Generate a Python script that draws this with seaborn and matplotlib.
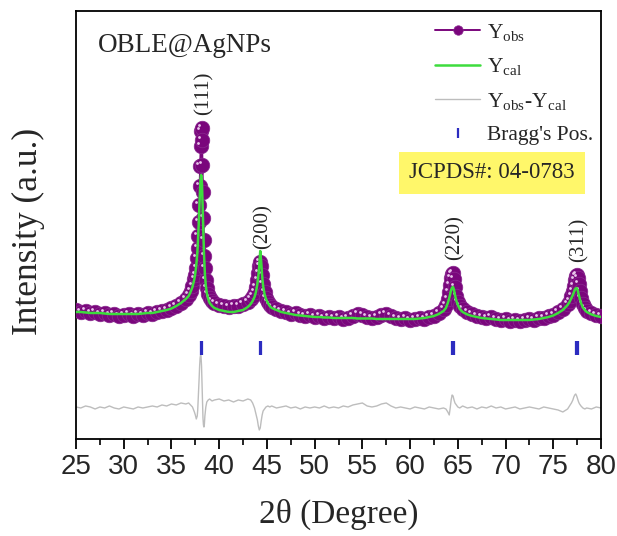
import numpy as np
import matplotlib
matplotlib.use("Agg")
import matplotlib.pyplot as plt
import matplotlib.transforms as mtransforms
from matplotlib.ticker import MultipleLocator
import seaborn as sns

# 2theta grid (deg), finer around the reflections
two_theta = [
    25.0, 25.5, 26.0, 26.5, 27.0, 27.5, 28.0, 28.5, 29.0, 29.5, 30.0, 30.5,
    31.0, 31.5, 32.0, 32.5, 33.0, 33.5, 34.0, 34.5, 35.0, 35.5, 36.0, 36.5,
    36.8, 37.0, 37.2, 37.4, 37.5, 37.6, 37.7, 37.75, 37.8, 37.85, 37.9, 37.95,
    38.0, 38.05, 38.1, 38.15, 38.2, 38.25, 38.3, 38.35, 38.4, 38.45, 38.5, 38.6,
    38.7, 38.85, 39.0, 39.25,
    39.5, 40.0, 40.5, 41.0, 41.5, 42.0, 42.5, 43.0, 43.3,
    43.5, 43.7, 43.85, 44.0, 44.1, 44.2, 44.3, 44.4, 44.5, 44.6, 44.75, 44.9,
    45.1, 45.3,
    45.5, 46.0, 46.5, 47.0, 47.5, 48.0, 48.5, 49.0, 49.5, 50.0, 50.5, 51.0,
    51.5, 52.0, 52.5, 53.0, 53.5, 54.0, 54.5, 55.0, 55.5, 56.0, 56.5, 57.0,
    57.5, 58.0, 58.5, 59.0, 59.5, 60.0, 60.5, 61.0, 61.5, 62.0, 62.5, 63.0,
    63.5,
    63.75, 63.95, 64.1, 64.2, 64.3, 64.4, 64.5, 64.6, 64.7, 64.85, 65.0, 65.2,
    65.5, 66.0, 66.5, 67.0, 67.5, 68.0, 68.5, 69.0, 69.5, 70.0, 70.5, 71.0,
    71.5, 72.0, 72.5, 73.0, 73.5, 74.0, 74.5, 75.0, 75.5, 76.0, 76.5,
    76.7, 76.9, 77.05, 77.15, 77.25, 77.35, 77.45, 77.55, 77.65, 77.75, 77.9,
    78.1, 78.3,
    78.5, 79.0, 79.5, 80.0,
]

# observed intensity (a.u.)
y_obs = [
    129, 127, 128, 126, 127, 125, 126, 124, 125, 123, 124, 125,
    123, 125, 124, 126, 125, 127, 128, 129, 131, 133, 136, 140,
    144, 148, 153, 160, 164, 171, 181, 191, 203, 217, 234, 253,
    273, 293, 308, 311, 299, 274, 247, 221, 199, 183, 171, 159,
    151, 145, 141, 138,
    136, 134, 133, 132, 133, 133, 135, 137, 140,
    143, 147, 152, 159, 166, 173, 177, 173, 164, 155, 147, 141,
    137, 134,
    132, 130, 128, 127, 125, 126, 124, 123, 124, 122, 123, 121,
    122, 121, 122, 120, 121, 123, 125, 124, 122, 121, 122, 124,
    125, 123, 121, 120, 121, 119, 120, 121, 120, 122, 123, 126,
    130,
    134, 140, 147, 154, 161, 165, 166, 160, 152, 143, 137, 133,
    130, 127, 125, 123, 122, 121, 122, 120, 119, 120, 118, 119,
    118, 119, 120, 119, 121, 121, 123, 124, 127, 130, 135,
    138, 143, 148, 153, 159, 163, 164, 161, 155, 148, 141,
    135, 131,
    128, 126, 124, 123,
]

# calculated (fitted) intensity (a.u.)
y_cal = [
    127, 127, 126.5, 126, 126, 126, 125.5, 125, 125, 125, 125, 125,
    125, 125, 125.5, 126, 126, 127, 128, 129, 130.5, 133, 136, 140,
    143, 147, 152, 160, 166, 174, 185, 193, 203, 214, 227, 239,
    251, 260, 264, 263, 254, 239, 221, 203, 187, 175, 165, 153,
    146, 140, 136, 133,
    131, 129, 128, 127, 127, 128, 129, 132, 135,
    138, 142, 147, 155, 163, 174, 188, 177, 163, 153, 145, 140,
    136, 133,
    131, 129, 127, 126, 125, 124, 123.5, 123, 122.5, 122, 122, 121.5,
    121.5, 121, 121, 121, 121, 121, 120.5, 120.5, 120.5, 120.5, 120, 120,
    120, 120, 120, 120, 120, 120, 120, 120.5, 121, 122, 123, 125,
    128,
    131, 136, 141, 145, 149, 151.5, 152, 149, 144, 138, 134, 130,
    127, 124.5, 123, 122, 121, 120.5, 120, 119.5, 119, 119, 119, 119,
    119, 119, 119, 119.5, 120, 121, 122, 123.5, 126, 129, 134,
    137, 141, 144, 146.5, 149, 150.5, 151, 149, 145, 141, 136,
    131.5, 129,
    127, 124.5, 123, 122,
]

# residual Yobs - Ycal (a.u.)
y_res = [
    0, -1, 1, 0, -2, 0, -1, 1, -1, -2, 0, -1,
    -2, 0, -1, 0, 1, 0, 2, 1, 3, 2, 4, 3,
    4, 2, 0, -5, -8, -12, -9, -3, 7, 17, 29, 41,
    49, 52, 50, 41, 24, 5, -11, -18, -20, -17, -9, 0,
    5, 7, 8, 6,
    7, 8, 6, 7, 5, 7, 6, 8, 7,
    4, -1, -7, -13, -19, -23, -21, -14, -8, -4, -2, 0,
    1, 0,
    1, -1, 0, 1, -1, 0, -2, 0, -1, 0, -1, 1,
    -1, 0, -1, 1, 0, 2, 3, 4, 1, 0, 1, 3,
    4, 1, -1, 0, -1, -2, 0, -1, -2, 0, -1, -2,
    -1,
    -2, -5, -8, -1, 7, 12, 11, 7, 4, 2, 0, -1,
    1, -1, 0, -2, 0, -1, 1, -1, 0, -2, -1, 0,
    -2, -1, 0, -1, -2, 0, -1, -2, -3, -5, -2,
    1, 4, 7, 10, 12, 13, 11, 8, 5, 3, 1,
    -1, -2,
    -1, -2, 0, -1,
]

# Bragg reflections of fcc Ag (Ka1/Ka2 pairs)
bragg_pos = [38.12, 38.22, 44.30, 44.42, 64.44, 64.62, 77.36, 77.62]
hkl_labels = ["(111)", "(200)", "(220)", "(311)"]
hkl_peaks = [38.12, 44.30, 64.44, 77.40]

res_offset = 32
bragg_row = 90.5

purple = "#7a067c"
green = "#3ddc3d"
grey = "#bdbdbd"
blue = "#2c2cc0"

sns.set_style("ticks")
plt.rcParams["font.family"] = ["Liberation Serif", "DejaVu Serif"]
plt.rcParams["mathtext.fontset"] = "stix"

fig = plt.figure(figsize=(6.17, 5.36), dpi=100)
ax = fig.add_axes([0.1232, 0.181, 0.8509, 0.7985])

x = np.array(two_theta)
obs = np.array(y_obs)
cal = np.array(y_cal)
res = np.array(y_res)

# difference curve
sns.lineplot(x=x, y=res + res_offset, ax=ax, color=grey, lw=1.0, zorder=2,
             label=r"Y$_\mathregular{obs}$-Y$_\mathregular{cal}$")

# observed points
sns.lineplot(x=x, y=obs, ax=ax, color=purple, lw=1.4, marker="o",
             markersize=10.5, markeredgecolor="#8a2a90", markeredgewidth=0.5,
             zorder=3, label=r"Y$_\mathregular{obs}$")
shine = ax.transData + mtransforms.ScaledTranslation(-2.0 / 72, 2.0 / 72,
                                                     fig.dpi_scale_trans)
ax.plot(x, obs, "o", ms=2.0, color="#e9c6ec", mew=0, transform=shine,
        zorder=3.5, label="_nolegend_")

# calculated profile
sns.lineplot(x=x, y=cal, ax=ax, color=green, lw=1.8, zorder=4,
             label=r"Y$_\mathregular{cal}$")

# Bragg positions
ax.plot(bragg_pos, [bragg_row] * len(bragg_pos), "|", ms=10, mew=1.6,
        color=blue, zorder=4, label="Bragg's Pos.")

# hkl labels above each peak
for lab, pk in zip(hkl_labels, hkl_peaks):
    near = np.abs(x - pk) < 0.35
    ax.annotate(lab, xy=(pk, obs[near].max()), xytext=(2, 9),
                textcoords="offset points", rotation=90, ha="center",
                va="bottom", fontsize=15)

ax.set_xlim(25, 80)
ax.set_ylim(0, 428)
ax.set_yticks([])
ax.xaxis.set_major_locator(MultipleLocator(5))
ax.xaxis.set_minor_locator(MultipleLocator(2.5))
ax.tick_params(axis="x", which="major", direction="out", length=7, width=1.3,
               labelsize=20, pad=4, color="black")
ax.tick_params(axis="x", which="minor", direction="out", length=4.5, width=1.2,
               color="black")
for t in ax.get_xticklabels():
    t.set_fontfamily(["Liberation Sans", "DejaVu Sans"])
for s in ax.spines.values():
    s.set_visible(True)
    s.set_linewidth(1.3)
    s.set_color("black")

ax.set_xlabel("2θ (Degree)", fontsize=24)
ax.xaxis.set_label_coords(0.5, -0.14)
ax.set_ylabel("Intensity (a.u.)", fontsize=25.5)
ax.yaxis.set_label_coords(-0.06, 0.485)

ax.text(0.042, 0.905, "OBLE@AgNPs", transform=ax.transAxes, fontsize=19.5,
        va="baseline", ha="left")
ax.text(492 / 617, 1 - 173 / 536, "JCPDS#: 04-0783", transform=fig.transFigure,
        fontsize=16.5, ha="center", va="center",
        bbox=dict(boxstyle="square,pad=0.45", fc="#fff76a", ec="none"))

h, l = ax.get_legend_handles_labels()
order = [l.index(k) for k in [r"Y$_\mathregular{obs}$", r"Y$_\mathregular{cal}$",
                              r"Y$_\mathregular{obs}$-Y$_\mathregular{cal}$",
                              "Bragg's Pos."]]
ax.legend([h[i] for i in order], [l[i] for i in order], loc="upper left",
          bbox_to_anchor=(435 / 617, 1 - 22 / 536), bbox_transform=fig.transFigure,
          frameon=False, fontsize=15.5, handlelength=2.1, handletextpad=0.3,
          labelspacing=0.62, borderpad=0, borderaxespad=0, numpoints=1,
          markerscale=0.65)

fig.savefig("out.png", dpi=100)
